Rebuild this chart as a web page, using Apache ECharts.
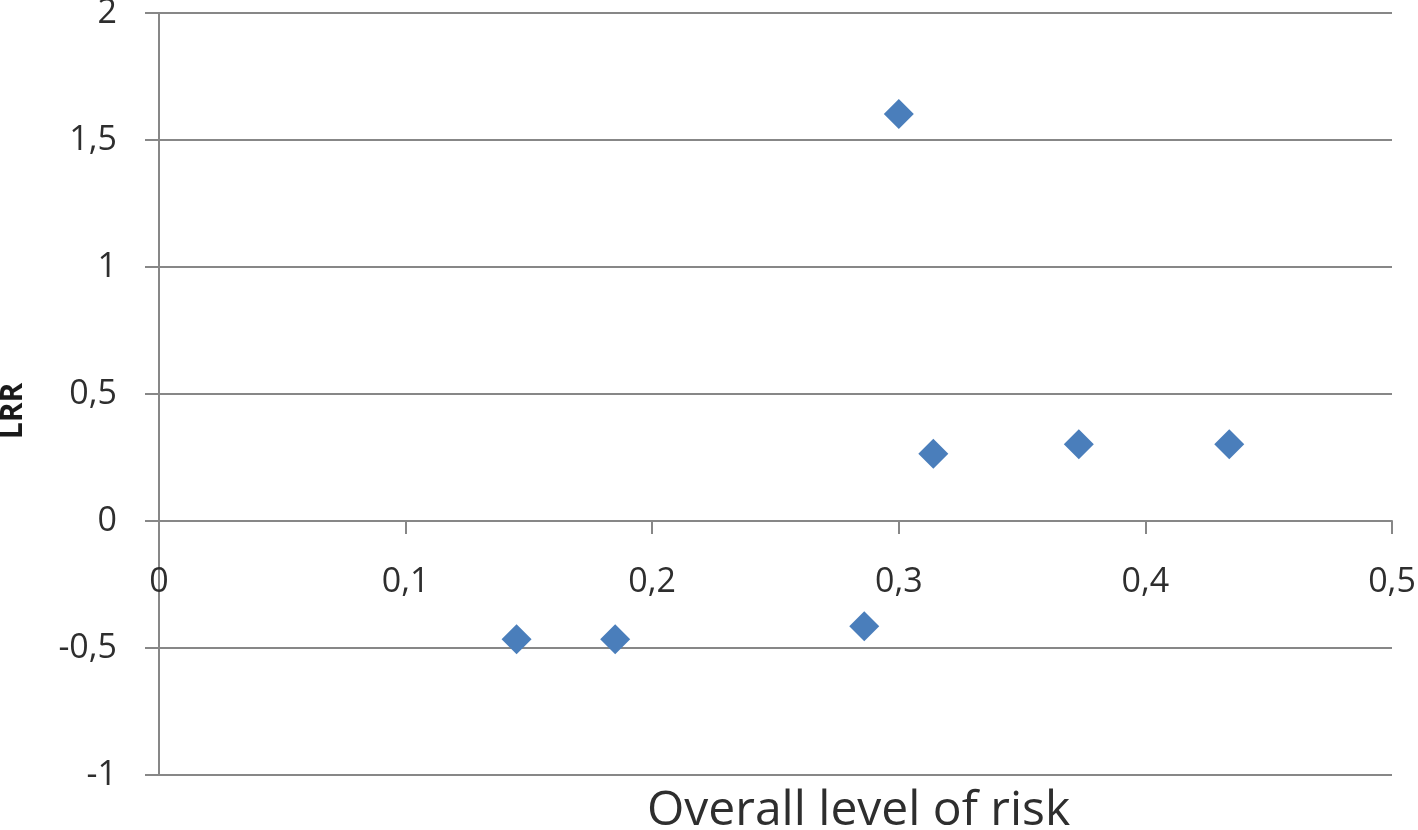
<!DOCTYPE html>
<html>
<head>
<meta charset="utf-8">
<script src="https://cdn.jsdelivr.net/npm/echarts@6/dist/echarts.min.js"></script>
<style>
html,body{margin:0;padding:0;background:#fff;}
#chart{width:1418px;height:830px;}
</style>
</head>
<body>
<div id="chart"></div>
<script>
// Data
const riskLevel = [0.145, 0.185, 0.286, 0.300, 0.314, 0.373, 0.434];
const lrrValues = [-0.466, -0.466, -0.414, 1.602, 0.265, 0.302, 0.302];
const xAxisTitle = 'Overall level of risk';
const yAxisTitle = 'LRR';

const points = riskLevel.map((x, i) => [x, lrrValues[i]]);
const fmt = v => String(Math.round(v * 10) / 10).replace('.', ',');

const gridColor = '#878787';
const textColor = '#2e2e2e';
const fontFamily = '"Open Sans", "Noto Sans", sans-serif';

const chart = echarts.init(document.getElementById('chart'));
const option = {
  animation: false,
  backgroundColor: '#ffffff',
  grid: { left: 159, right: 26, top: 13, bottom: 55, containLabel: false, outerBoundsMode: 'none' },
  xAxis: {
    type: 'value',
    position: 'bottom',
    offset: 0,
    min: 0, max: 0.5, interval: 0.1,
    axisLine: { show: true, onZero: false, lineStyle: { color: gridColor, width: 2 } },
    axisTick: { show: true, length: 13, lineStyle: { color: gridColor, width: 2 } },
    axisLabel: { formatter: fmt, margin: 44, fontSize: 34, color: textColor, fontFamily: fontFamily, hideOverlap: false, showMinLabel: true, showMaxLabel: true },
    splitLine: { show: false }
  },
  yAxis: {
    type: 'value',
    min: -1, max: 2, interval: 0.5,
    axisLine: { show: true, lineStyle: { color: gridColor, width: 2 } },
    axisTick: { show: true, length: 14, lineStyle: { color: gridColor, width: 2 } },
    axisLabel: { formatter: fmt, margin: 42, fontSize: 34, color: textColor, fontFamily: fontFamily },
    splitLine: { show: true, lineStyle: { color: gridColor, width: 2 } }
  },
  graphic: [
    {
      type: 'text', x: 647, y: 811,
      style: { text: xAxisTitle, fontSize: 48, fontFamily: fontFamily, fill: textColor, align: 'left', verticalAlign: 'middle' }
    },
    {
      type: 'text', x: 13, y: 411, rotation: Math.PI / 2,
      style: { text: yAxisTitle, fontSize: 30, fontWeight: 'bold', fontFamily: fontFamily, fill: '#1a1a1a', align: 'center', verticalAlign: 'middle' }
    }
  ],
  series: [{
    type: 'scatter',
    data: points,
    symbol: 'diamond',
    symbolSize: 30,
    itemStyle: { color: '#4a7ebb', opacity: 1 }
  }]
};
chart.setOption(option);
// Move the x axis (line, ticks, labels) up to y = 0 using the library's own scale
const yZero = chart.convertToPixel({ yAxisIndex: 0 }, 0);
const yMin = chart.convertToPixel({ yAxisIndex: 0 }, -1);
chart.setOption({ xAxis: { offset: -(yMin - yZero) } });
</script>
</body>
</html>
